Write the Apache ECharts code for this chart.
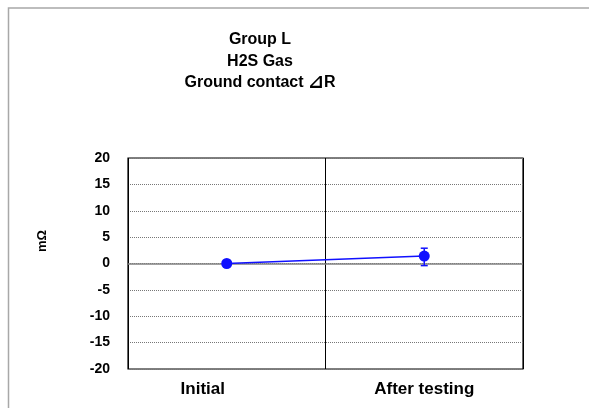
<!DOCTYPE html>
<html>
<head>
<meta charset="utf-8">
<script src="https://cdn.jsdelivr.net/npm/echarts@6/dist/echarts.min.js"></script>
<style>
  html, body { margin: 0; padding: 0; background: #fff; }
  #chart { width: 589px; height: 408px; }
</style>
</head>
<body>
<div id="chart"></div>
<script>
// Ground contact resistance change, Group L, H2S gas exposure
const categories = ['Initial', 'After testing'];
const meanValues = [0, 1.4];
const errLow = [0, -0.4];
const errHigh = [0, 2.9];
const yTicks = { min: -20, max: 20, interval: 5 };

const titleLines = ['Group L', 'H2S Gas', 'Ground contact '];
const deltaSign = '\u22BF';
const deltaSuffix = 'R';
const unitLabel = 'm\u03A9';

const blue = '#1010ff';
const font = 'Liberation Sans, Arial, sans-serif';

const chart = echarts.init(document.getElementById('chart'), null, { renderer: 'canvas' });

const titleStyle = { fontFamily: font, fontWeight: 'bold', fontSize: 16, lineHeight: 21.5, color: '#000' };

chart.setOption({
  backgroundColor: '#fff',
  animation: false,
  title: {
    text: titleLines[0] + '\n' + titleLines[1] + '\n' + titleLines[2] + '{d|' + deltaSign + '}' + deltaSuffix,
    left: 255,
    textAlign: 'center',
    top: 24,
    textStyle: Object.assign({}, titleStyle, {
      rich: {
        d: { fontFamily: 'DejaVu Sans, sans-serif', fontSize: 19, lineHeight: 21.5, color: '#000' }
      }
    })
  },
  graphic: [
    {
      type: 'polyline',
      silent: true,
      shape: { points: [[8.5, 420], [8.5, 8], [600, 8]] },
      style: { stroke: '#a8a8a8', lineWidth: 1.5, fill: null }
    },
    {
      type: 'text',
      x: 42,
      y: 241,
      rotation: Math.PI / 2,
      style: {
        text: unitLabel,
        fontFamily: font,
        fontWeight: 'bold',
        fontSize: 13,
        fill: '#000',
        align: 'center',
        verticalAlign: 'middle'
      }
    }
  ],
  grid: {
    left: 128,
    right: 66,
    top: 158,
    bottom: 39,
    show: true,
    borderColor: '#000',
    borderWidth: 1.2,
    backgroundColor: 'transparent'
  },
  xAxis: {
    type: 'category',
    data: categories,
    boundaryGap: true,
    axisLine: { show: false },
    axisTick: { show: false },
    splitLine: { show: true, lineStyle: { color: '#000', width: 1 } },
    axisLabel: {
      margin: 12,
      color: '#000',
      fontFamily: font,
      fontWeight: 'bold',
      fontSize: 17,
      formatter: function (v) {
        return v === categories[0] ? '{a|' + v + '}' : '{b|' + v + '}';
      },
      rich: {
        a: { fontFamily: font, fontWeight: 'bold', fontSize: 17, color: '#000', padding: [0, 48, 0, 0] },
        b: { fontFamily: font, fontWeight: 'bold', fontSize: 17, color: '#000' }
      }
    }
  },
  yAxis: {
    type: 'value',
    min: yTicks.min,
    max: yTicks.max,
    interval: yTicks.interval,
    axisLine: { show: false },
    axisTick: { show: false },
    splitLine: { show: true, lineStyle: { color: '#777', type: 'dotted', width: 1 } },
    axisLabel: {
      margin: 18,
      color: '#000',
      fontFamily: font,
      fontWeight: 'bold',
      fontSize: 14
    }
  },
  series: [
    {
      type: 'line',
      data: meanValues,
      symbol: 'circle',
      symbolSize: 11,
      itemStyle: { color: blue },
      lineStyle: { color: blue, width: 1.5 },
      z: 5,
      markLine: {
        silent: true,
        symbol: 'none',
        label: { show: false },
        lineStyle: { color: '#808080', type: 'solid', width: 1.5 },
        data: [{ yAxis: 0 }],
        z: 1
      }
    },
    {
      type: 'custom',
      z: 6,
      data: categories.map(function (c, i) { return [i, errLow[i], errHigh[i]]; }),
      renderItem: function (params, api) {
        const lo = api.value(1), hi = api.value(2);
        if (lo === hi) return null;
        const p1 = api.coord([api.value(0), lo]);
        const p2 = api.coord([api.value(0), hi]);
        const w = 3.5;
        const st = { stroke: blue, lineWidth: 1.5 };
        return {
          type: 'group',
          children: [
            { type: 'line', shape: { x1: p1[0], y1: p1[1], x2: p2[0], y2: p2[1] }, style: st },
            { type: 'line', shape: { x1: p1[0] - w, y1: p1[1], x2: p1[0] + w, y2: p1[1] }, style: st },
            { type: 'line', shape: { x1: p2[0] - w, y1: p2[1], x2: p2[0] + w, y2: p2[1] }, style: st }
          ]
        };
      }
    }
  ]
});
</script>
</body>
</html>
